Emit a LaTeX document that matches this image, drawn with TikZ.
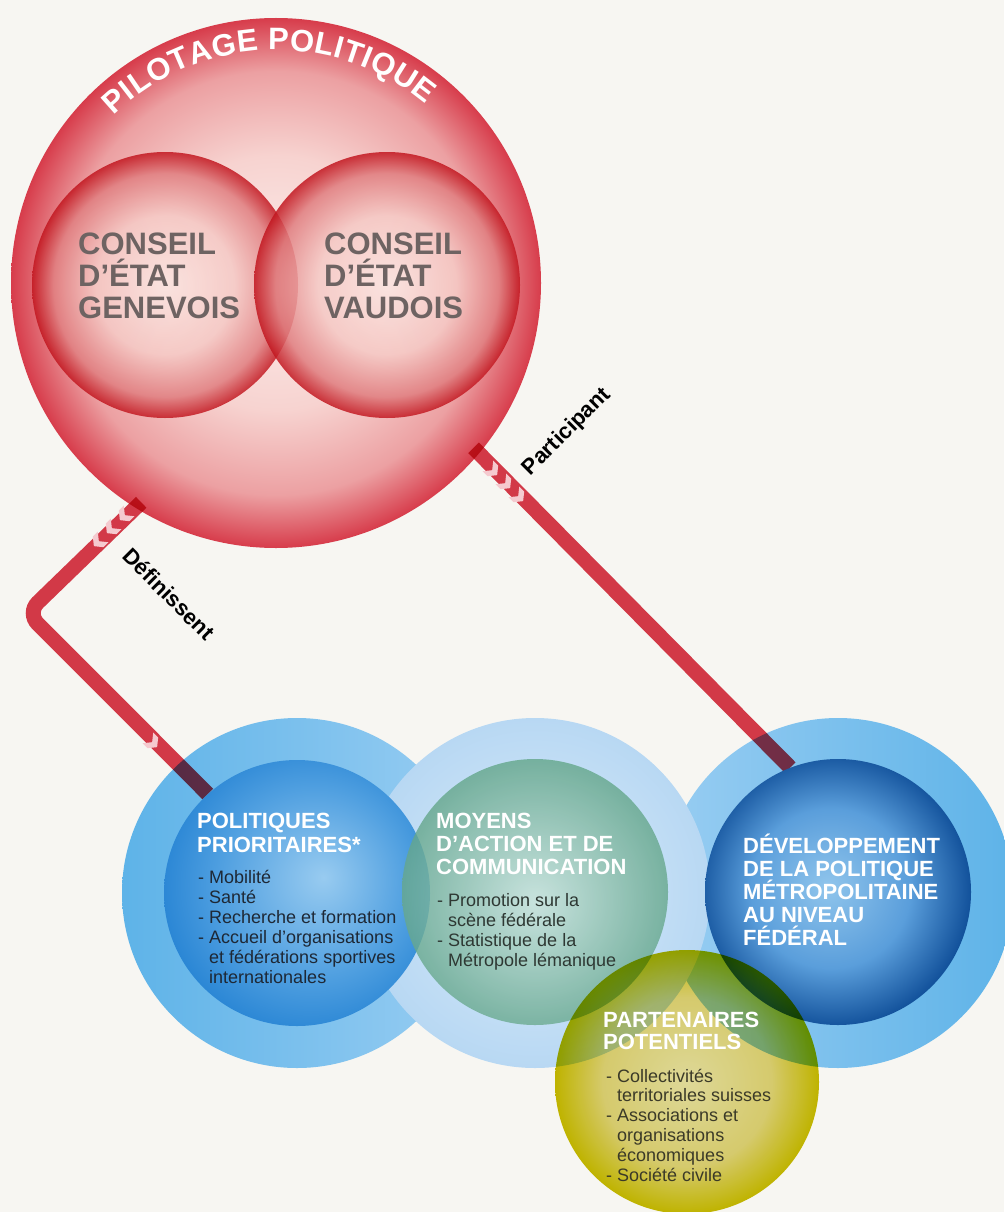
\documentclass[tikz,border=0pt]{standalone}
\usepackage{fontspec}
\setmainfont{Liberation Sans}
\usetikzlibrary{decorations.text}
\definecolor{paper}{HTML}{F7F6F2}
\definecolor{lineRed}{HTML}{D93C4B}
\definecolor{chevPink}{HTML}{F5CACF}
\definecolor{conseilGray}{HTML}{6E6362}
\definecolor{br0}{HTML}{FCEEEC}
\definecolor{br1}{HTML}{F7D3D0}
\definecolor{br2}{HTML}{ECA0A2}
\definecolor{br3}{HTML}{D73C4B}
\definecolor{ir0}{HTML}{FBE5E1}
\definecolor{ir1}{HTML}{F5C8C4}
\definecolor{ir2}{HTML}{E07D7F}
\definecolor{ir3}{HTML}{C2161F}
\definecolor{pl0}{HTML}{DBECFA}
\definecolor{pl1}{HTML}{B8D8F3}
\definecolor{ringA}{HTML}{5EB3E8}
\definecolor{ringB}{HTML}{98CDF2}
\definecolor{pb0}{HTML}{98CBF0}
\definecolor{pb1}{HTML}{4F9FE0}
\definecolor{pb2}{HTML}{1E7ED1}
\definecolor{mg0}{HTML}{C4E1D7}
\definecolor{mg1}{HTML}{5FA386}
\definecolor{db0}{HTML}{90C5EC}
\definecolor{db1}{HTML}{5A9EDB}
\definecolor{db2}{HTML}{0B4A95}
\definecolor{yl0}{HTML}{E6E0A0}
\definecolor{yl1}{HTML}{DCD273}
\definecolor{yl2}{HTML}{C6BA00}
\definecolor{polItem}{HTML}{1E2835}
\definecolor{moyItem}{HTML}{2E3833}
\definecolor{parItem}{HTML}{3B3A28}
\pgfdeclareradialshading{bigredsh}{\pgfpointorigin}{color(0bp)=(br0); color(12bp)=(br1); color(20bp)=(br2); color(25bp)=(br3); color(50bp)=(br3)}
\pgfdeclareradialshading{innerredsh}{\pgfpointorigin}{color(0bp)=(ir0); color(13bp)=(ir1); color(21bp)=(ir2); color(25bp)=(ir3); color(50bp)=(ir3)}
\pgfdeclareradialshading{palesh}{\pgfpointorigin}{color(0bp)=(pl0); color(25bp)=(pl1); color(50bp)=(pl1)}
\pgfdeclareradialshading{polsh}{\pgfpoint{5bp}{3bp}}{color(0bp)=(pb0); color(18bp)=(pb1); color(31bp)=(pb2); color(50bp)=(pb2)}
\pgfdeclareradialshading{moysh}{\pgfpoint{0bp}{-2bp}}{color(0bp)=(mg0); color(27bp)=(mg1); color(50bp)=(mg1)}
\pgfdeclareradialshading{devsh}{\pgfpoint{-2bp}{1bp}}{color(0bp)=(db0); color(15bp)=(db1); color(27bp)=(db2); color(50bp)=(db2)}
\pgfdeclareradialshading{yelsh}{\pgfpointorigin}{color(0bp)=(yl0); color(16bp)=(yl1); color(25bp)=(yl2); color(50bp)=(yl2)}
\newcommand\fHead{\fontsize{22}{24}\selectfont\bfseries}
\newcommand\fItem{\fontsize{18}{20}\selectfont}
\newcommand\fConseil{\fontsize{31}{32}\selectfont\bfseries}
\newcommand\fLabel{\fontsize{22}{24}\selectfont\bfseries}
\newcommand\fArc{\fontsize{31}{33}\selectfont\bfseries}
\pgfdeclarelayer{bg}
\pgfdeclarelayer{lines}
\pgfsetlayers{bg,lines,main}
\tikzset{
  disc/.style={circle, inner sep=0pt, draw=none},
  conn/.style={draw=lineRed, line width=15pt},
  chev/.pic={\fill[chevPink] (-3,-7.5) -- (3,0) -- (-3,7.5) -- (-10,7.5) -- (-4,0) -- (-10,-7.5) -- cycle;},
  head/.style={anchor=base west, inner sep=0pt, text=white, font=\fHead},
  bul/.style={anchor=base west, inner sep=0pt, font=\fItem},
  conseil/.style={anchor=base west, inner sep=0pt, text=conseilGray, font=\fConseil},
  lab/.style={inner sep=0pt, text=black, font=\fLabel},
}
\begin{document}
\begin{tikzpicture}[x=1pt,y=-1pt]
\useasboundingbox (0,0) rectangle (1004,1212);
\begin{pgfonlayer}{bg}
\fill[paper] (0,0) rectangle (1004,1212);
% political steering
\node[disc, minimum size=530, shade, shading=bigredsh] (pil) at (276,283) {};
\node[disc, minimum size=266, shade, shading=innerredsh, fill opacity=0.85] (ge) at (165,285) {};
\node[disc, minimum size=266, shade, shading=innerredsh, fill opacity=0.85] (vd) at (387,285) {};
\path[decorate, decoration={text along path, text={|\fArc|PILOTAGE POLITIQUE}, text align={fit to path}, text color=white}]
  (pil.center) ++(-134:233) arc[start angle=-134, end angle=-50, radius=233];
% outer rings
\node[disc, minimum size=350, left color=ringA, right color=ringB] (lring) at (297,893) {};
\node[disc, minimum size=350, left color=ringB, right color=ringA] (rring) at (838,893) {};
\node[disc, minimum size=350, shade, shading=palesh] (mring) at (535,893) {};
\end{pgfonlayer}
% conseil texts
\foreach \t [count=\i from 0] in {CONSEIL, D’ÉTAT, GENEVOIS}
  \node[conseil] (get\i) at (78,{254+32*\i}) {\t};
\foreach \t [count=\i from 0] in {CONSEIL, D’ÉTAT, VAUDOIS}
  \node[conseil] (vdt\i) at (324,{254+32*\i}) {\t};
% inner circles
\node[disc, minimum size=266, shade, shading=polsh] (pol) at (297,893) {};
\node[disc, minimum size=266, shade, shading=moysh, fill opacity=0.8] (moy) at (535,892) {};
\node[disc, minimum size=266, shade, shading=devsh] (dev) at (838,892) {};
\begin{scope}[blend mode=multiply]
\node[disc, minimum size=264, shade, shading=yelsh] (yel) at (687,1082) {};
\end{scope}
% texts
\foreach \t [count=\i from 0] in {POLITIQUES, PRIORITAIRES*}
  \node[head] (polh\i) at (197,{828+24*\i}) {\t};
\foreach \d/\t [count=\i from 0] in {1/Mobilité, 1/Santé, 1/Recherche et formation, 1/Accueil d’organisations, 0/et fédérations sportives, 0/internationales}
  \node[bul, text=polItem] (poli\i) at (209,{883+20*\i}) {\ifnum\d=1 \llap{- }\fi\t};
\foreach \t [count=\i from 0] in {MOYENS, D’ACTION ET DE, COMMUNICATION}
  \node[head] (moyh\i) at (436,{828+23*\i}) {\t};
\foreach \d/\t [count=\i from 0] in {1/Promotion sur la, 0/scène fédérale, 1/Statistique de la, 0/Métropole lémanique}
  \node[bul, text=moyItem] (moyi\i) at (448,{906+20*\i}) {\ifnum\d=1 \llap{- }\fi\t};
\foreach \t [count=\i from 0] in {DÉVELOPPEMENT, DE LA POLITIQUE, MÉTROPOLITAINE, AU NIVEAU, FÉDÉRAL}
  \node[head] (devh\i) at (743,{853+23*\i}) {\t};
\foreach \t [count=\i from 0] in {PARTENAIRES, POTENTIELS}
  \node[head] (parh\i) at (603,{1027+22*\i}) {\t};
\foreach \d/\t [count=\i from 0] in {1/Collectivités, 0/territoriales suisses, 1/Associations et, 0/organisations, 0/économiques, 1/Société civile}
  \node[bul, text=parItem] (pari\i) at (617,{1082+19.8*\i}) {\ifnum\d=1 \llap{- }\fi\t};
% connector labels
\node[lab, rotate=-45] (defl) at (169,594) {Définissent};
\node[lab, rotate=45] (parl) at (567,432) {Participant};
% connectors
\coordinate (d1) at (27,613);
\begin{pgfonlayer}{lines}
\begin{scope}[blend mode=multiply]
\draw[conn, rounded corners=15pt, shorten <=-8pt] (pil.238) -- (d1) -- (pol.132);
\draw[conn, shorten <=-8pt] (pil.-40.4) -- (dev.111);
\end{scope}
\pic[rotate=225] at (122,518) {chev};
\pic[rotate=225] at (109,531) {chev};
\pic[rotate=225] at (96,544) {chev};
\pic[rotate=-45] at (155,745) {chev};
\pic[rotate=-45] at (495,473) {chev};
\pic[rotate=-45] at (508,486) {chev};
\pic[rotate=-45] at (521,499) {chev};
\end{pgfonlayer}
\end{tikzpicture}
\end{document}
